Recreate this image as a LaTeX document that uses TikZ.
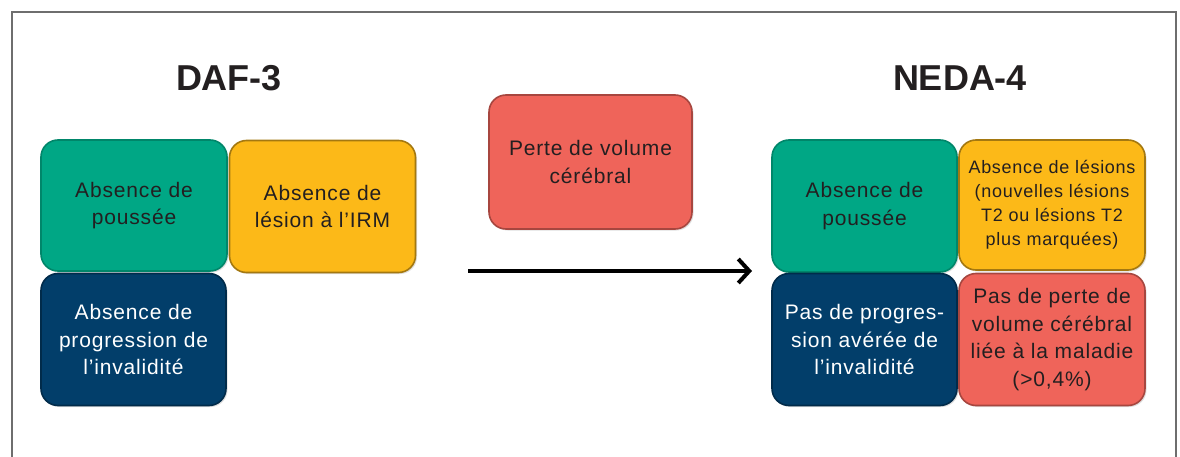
\documentclass[tikz,border=0pt]{standalone}
\usepackage{fontspec}
\setmainfont{Liberation Sans}
\newfontfamily\boxfont[LetterSpace=4]{Liberation Sans}
\usetikzlibrary{arrows.meta,shadows}
\definecolor{cgreen}{RGB}{0,167,133}
\definecolor{cyellow}{RGB}{252,185,24}
\definecolor{cblue}{RGB}{2,62,106}
\definecolor{cred}{RGB}{239,100,90}
\definecolor{ctext}{RGB}{35,31,32}
\definecolor{cframe}{RGB}{110,110,110}
\tikzset{
  tile/.style={rectangle, rounded corners=17pt, inner sep=0pt, align=center,
    line width=1.6pt, font=\boxfont\fontsize{21}{27.5}\selectfont,
    drop shadow={shadow xshift=1.5pt, shadow yshift=-1.5pt, opacity=0.25}},
  gtile/.style={tile, fill=cgreen, draw=cgreen!80!black, text=ctext},
  ytile/.style={tile, fill=cyellow, draw=cyellow!65!black, text=ctext},
  btile/.style={tile, fill=cblue, draw=cblue!70!black, text=white},
  rtile/.style={tile, fill=cred, draw=cred!70!black, text=ctext},
  title/.style={font=\bfseries\fontsize{36}{40}\selectfont, text=ctext},
  frameline/.style={draw=cframe, line width=1.3pt},
  flow/.style={line width=4pt, -{Straight Barb[length=11pt, width=24pt, line width=4pt]}},
}
\begin{document}
\begin{tikzpicture}[x=1pt, y=-1pt]
\useasboundingbox (0,0) rectangle (1180,457);
\fill[white] (0,0) rectangle (1180,457);
\draw[frameline] (12,460) -- (12,12) -- (1176,12) -- (1176,460);

\node[title] (t1) at (229,78) {DAF-3};
\node[title] (t2) at (960,78) {NEDA-4};

\node[gtile, minimum width=186pt, minimum height=131pt] (g1) at (134,205.5) {Absence de\\poussée};
\node[ytile, minimum width=186pt, minimum height=132pt] (y1) at (322.5,206.5) {Absence de\\lésion à l’IRM};
\node[btile, minimum width=185pt, minimum height=132pt] (b1) at (133.5,339.5) {Absence de\\progression de\\l’invalidité};

\node[rtile, minimum width=203pt, minimum height=134pt] (rm) at (590.5,162) {Perte de volume\\cérébral};

\coordinate (a1) at (468,271);
\coordinate (a2) at (752,271);
\draw[flow] (a1) -- (a2);

\node[gtile, minimum width=185pt, minimum height=132pt] (g2) at (864.5,206) {Absence de\\poussée};
\node[ytile, minimum width=186pt, minimum height=130pt, font=\boxfont\fontsize{18}{24}\selectfont] (y2) at (1052,205) {Absence de lésions\\(nouvelles lésions\\T2 ou lésions T2\\plus marquées)};
\node[btile, minimum width=185pt, minimum height=132pt] (b2) at (864.5,339.5) {Pas de progres-\\sion avérée de\\l’invalidité};
\node[rtile, minimum width=186pt, minimum height=132pt] (r2) at (1052,339.5) {Pas de perte de\\volume cérébral\\liée à la maladie\\(>0,4\%)};
\end{tikzpicture}
\end{document}
